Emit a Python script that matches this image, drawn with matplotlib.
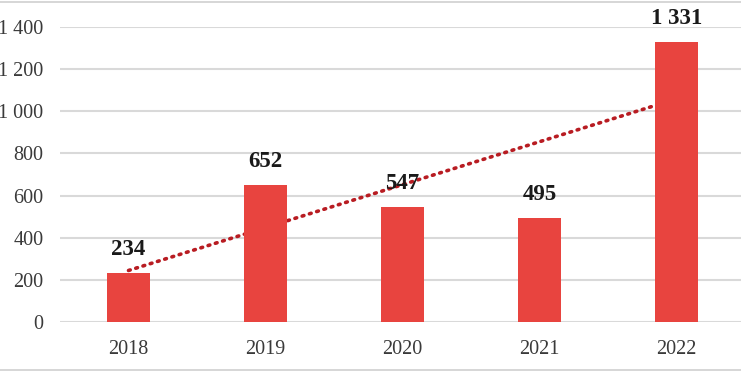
import numpy as np
import matplotlib
matplotlib.use('Agg')
import matplotlib.pyplot as plt
from matplotlib.lines import Line2D

plt.rcParams['font.family'] = ['Liberation Serif', 'DejaVu Serif']

years = ['2018', '2019', '2020', '2021', '2022']
values = [234, 652, 547, 495, 1331]
yticks = [0, 200, 400, 600, 800, 1000, 1200, 1400]

def fmt(v):
    return f'{v:,}'.replace(',', ' ')

fig = plt.figure(figsize=(7.41, 3.75), dpi=100)
ax = fig.add_axes([60/741, 1 - 322/375, 685/741, 295/375])
ax.set_xlim(-0.5, 4.5)
ax.set_ylim(0, 1400)

x = np.arange(len(years))
ax.bar(x, values, width=0.31, color='#e8443f', zorder=3)

# linear trend
k, b = np.polyfit(x, values, 1)
ax.plot([x[0], x[-1]], [k*x[0] + b, k*x[-1] + b], color='#b81c22', lw=2.6,
        linestyle=(0, (0.5, 1.6)), dash_capstyle='round', zorder=2)

for xi, v in zip(x, values):
    ax.annotate(fmt(v), (xi, v), xytext=(0, 9), textcoords='offset points',
                ha='center', va='bottom', fontsize=16.5, fontweight='bold',
                color='#1a1a1a', zorder=4)

ax.set_yticks(yticks)
ax.set_yticklabels([fmt(t) for t in yticks])
ax.set_xticks(x)
ax.set_xticklabels(years)
ax.tick_params(axis='both', length=0, labelsize=14.5, labelcolor='#3a3a3a')
ax.tick_params(axis='y', pad=12)
ax.tick_params(axis='x', pad=13)
ax.grid(axis='y', color='#d9d9d9', lw=1.5, zorder=0)
ax.set_axisbelow(True)
for s in ax.spines.values():
    s.set_visible(False)

fig.add_artist(Line2D([0, 1], [1 - 2/375, 1 - 2/375], color='#d0d0d0', lw=1.2))
fig.add_artist(Line2D([0, 1], [1 - 370/375, 1 - 370/375], color='#d0d0d0', lw=1.2))

fig.savefig('out.png', dpi=100)
